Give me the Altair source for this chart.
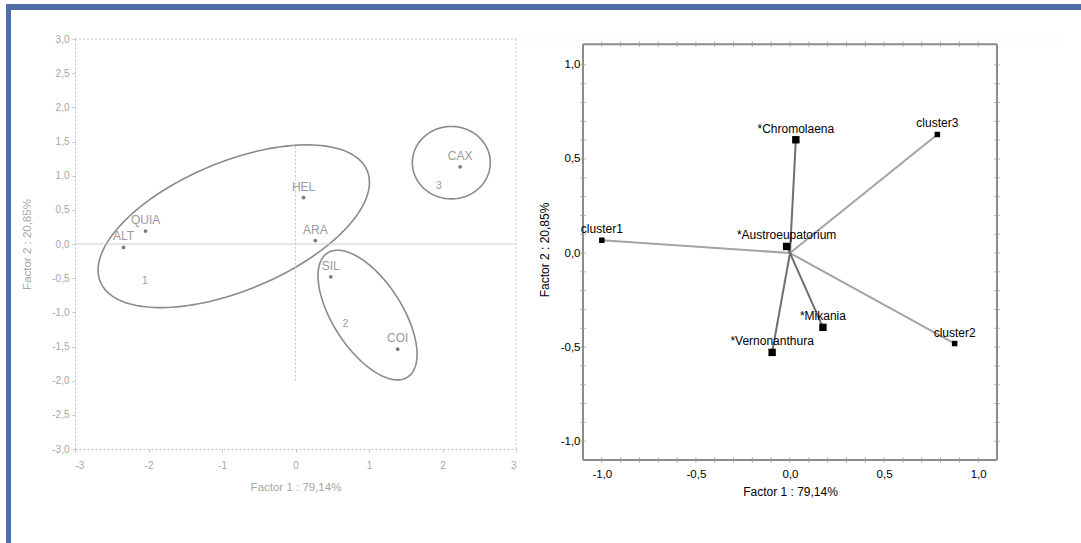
import numpy as np
import pandas as pd
import altair as alt

# ---- Left panel: site scores on factors 1 and 2 ----
site_names = ["ALT", "QUIA", "HEL", "ARA", "SIL", "COI", "CAX"]
site_f1 = [-2.34, -2.04, 0.11, 0.27, 0.48, 1.39, 2.24]
site_f2 = [-0.05, 0.19, 0.68, 0.05, -0.48, -1.54, 1.13]

# group numbers written inside each ellipse
group_names = ["1", "2", "3"]
group_f1 = [-2.05, 0.68, 1.95]
group_f2 = [-0.54, -1.17, 0.85]

# group ellipses: centre, semi-axes and rotation in degrees (factor units)
ell_group = ["1", "2", "3"]
ell_cx = [-0.84, 0.98, 2.12]
ell_cy = [0.26, -1.04, 1.19]
ell_a = [1.99, 1.06, 0.53]
ell_b = [0.93, 0.48, 0.53]
ell_angle = [25, -60, 0]

left_ticks_x = [-3, -2, -1, 0, 1, 2, 3]
left_ticks_y = [-3.0, -2.5, -2.0, -1.5, -1.0, -0.5, 0.0, 0.5, 1.0, 1.5, 2.0, 2.5, 3.0]

# ---- Right panel: biplot vectors ----
vec_names = ["cluster1", "cluster2", "cluster3",
             "*Chromolaena", "*Austroeupatorium", "*Mikania", "*Vernonanthura"]
vec_f1 = [-1.00, 0.875, 0.783, 0.031, -0.018, 0.175, -0.095]
vec_f2 = [0.068, -0.481, 0.630, 0.602, 0.035, -0.395, -0.528]
vec_kind = ["cluster", "cluster", "cluster", "genus", "genus", "genus", "genus"]

right_labels = [-1.0, -0.5, 0.0, 0.5, 1.0]
right_minor = [round(-1.0 + 0.1 * i, 1) for i in range(21)]

FONT = "Liberation Sans"
GREY_TXT = "#a6a6a6"

sites = pd.DataFrame({"name": site_names, "x": site_f1, "y": site_f2})
groups = pd.DataFrame({"name": group_names, "x": group_f1, "y": group_f2})

rows = []
t = np.linspace(0, 2 * np.pi, 181)
for g, cx, cy, a, b, ang in zip(ell_group, ell_cx, ell_cy, ell_a, ell_b, ell_angle):
    phi = np.radians(ang)
    ex = cx + a * np.cos(t) * np.cos(phi) - b * np.sin(t) * np.sin(phi)
    ey = cy + a * np.cos(t) * np.sin(phi) + b * np.sin(t) * np.cos(phi)
    for i, (px, py) in enumerate(zip(ex, ey)):
        rows.append({"g": g, "i": i, "x": px, "y": py})
ellipses = pd.DataFrame(rows)

num_int = "(datum.value < 0 ? '-' : '') + format(abs(datum.value), 'd')"
num_dec = "(datum.value < 0 ? '-' : '') + replace(format(abs(datum.value), '.1f'), '.', ',')"


def lx(field="x"):
    return alt.X(f"{field}:Q", scale=alt.Scale(domain=[-3, 3], nice=False, zero=False),
                 axis=alt.Axis(values=left_ticks_x, labelExpr=num_int, title="Factor 1 : 79,14%",
                               grid=False, domainColor="#c4c4c4", domainDash=[2, 2],
                               tickColor="#c4c4c4", tickSize=3, labelPadding=8,
                               labelColor=GREY_TXT, labelFontSize=10, labelFont=FONT,
                               titleFont=FONT, titleColor=GREY_TXT, titleFontSize=11.5,
                               titleFontWeight="normal", titlePadding=11))


def ly(field="y"):
    return alt.Y(f"{field}:Q", scale=alt.Scale(domain=[-3, 3], nice=False, zero=False),
                 axis=alt.Axis(values=left_ticks_y, labelExpr=num_dec, title="Factor 2 : 20,85%",
                               grid=False, domainColor="#c4c4c4", domainDash=[2, 2],
                               tickColor="#c4c4c4", tickSize=3, labelPadding=3,
                               labelColor=GREY_TXT, labelFontSize=10, labelFont=FONT,
                               titleFont=FONT, titleColor=GREY_TXT, titleFontSize=11.5,
                               titleFontWeight="normal", titlePadding=19))


def segs(x, x2, y, y2):
    return pd.DataFrame({"x": x, "x2": x2, "y": y, "y2": y2})


# dotted frame (top, right) and the dashed vertical origin line
left_dotted = segs([-3, 3, 0], [3, 3, 0], [3, -3, -2.0], [3, 3, 1.45])
# horizontal origin line
left_zero = segs([-3], [3], [0], [0])

dotted_layer = alt.Chart(left_dotted).mark_rule(color="#c4c4c4", strokeDash=[2, 2]).encode(
    x=lx(), x2="x2:Q", y=ly(), y2="y2:Q")
zero_layer = alt.Chart(left_zero).mark_rule(color="#cfcfcf").encode(
    x=lx(), x2="x2:Q", y=ly(), y2="y2:Q")
ell_layer = alt.Chart(ellipses).mark_line(color="#8a8a8a", strokeWidth=1.6).encode(
    x=lx(), y=ly(), detail="g:N", order="i:Q")
site_pts = alt.Chart(sites).mark_circle(color="#7a7a7a", size=14, opacity=1).encode(x=lx(), y=ly())
site_txt = alt.Chart(sites).mark_text(color="#9a9a9a", fontSize=12, font=FONT, dy=-11).encode(
    x=lx(), y=ly(), text="name:N")
group_txt = alt.Chart(groups).mark_text(color="#9a9a9a", fontSize=10.5, font=FONT).encode(
    x=lx(), y=ly(), text="name:N")

# window border (blue bars along the top and left edge)
one = pd.DataFrame({"k": [0]})
border_top = alt.Chart(one).mark_rect(color="#4d6fa5").encode(
    x=alt.value(-69), x2=alt.value(1006), y=alt.value(-35), y2=alt.value(-29))
border_left = alt.Chart(one).mark_rect(color="#4d6fa5").encode(
    x=alt.value(-69), x2=alt.value(-64), y=alt.value(-35), y2=alt.value(504))

left = alt.layer(
    ell_layer, zero_layer, dotted_layer, site_pts, site_txt, group_txt,
    border_top, border_left,
).properties(width=441, height=410)

# ---- right panel ----
vectors = pd.DataFrame({"name": vec_names, "x": vec_f1, "y": vec_f2, "kind": vec_kind})
vectors["ox"] = 0.0
vectors["oy"] = 0.0


def rx(field="x"):
    return alt.X(f"{field}:Q", scale=alt.Scale(domain=[-1.1, 1.1], nice=False, zero=False),
                 axis=alt.Axis(values=right_labels, labelExpr=num_dec, title="Factor 1 : 79,14%",
                               grid=False, domain=False, ticks=False, labelPadding=8,
                               labelColor="black", labelFontSize=11.5, labelFont=FONT,
                               titleFont=FONT, titleColor="black", titleFontSize=12,
                               titleFontWeight="normal", titlePadding=7))


def ry(field="y"):
    return alt.Y(f"{field}:Q", scale=alt.Scale(domain=[-1.1, 1.1375], nice=False, zero=False),
                 axis=alt.Axis(values=right_labels, labelExpr=num_dec, title="Factor 2 : 20,85%",
                               grid=False, domain=False, ticks=False, labelPadding=3,
                               labelColor="black", labelFontSize=11.5, labelFont=FONT,
                               titleFont=FONT, titleColor="black", titleFontSize=12,
                               titleFontWeight="normal", titlePadding=9))


box = segs([-1.1, -1.1, -1.1, 1.1], [1.1, 1.1, -1.1, 1.1],
           [1.11, -1.1, -1.1, -1.1], [1.11, -1.1, 1.11, 1.11])
faint = segs([-1.40], [1.44], [1.132], [1.132])
hticks = pd.DataFrame({"x": right_minor * 2,
                       "y": [1.11] * len(right_minor) + [-1.1] * len(right_minor)})
vticks = pd.DataFrame({"y": right_minor * 2,
                       "x": [-1.1] * len(right_minor) + [1.1] * len(right_minor)})

faint_layer = alt.Chart(faint).mark_rule(color="#d6d6d6", strokeDash=[1, 3]).encode(
    x=rx(), x2="x2:Q", y=ry(), y2="y2:Q")
box_layer = alt.Chart(box).mark_rule(color="#8c8c8c", strokeWidth=2).encode(
    x=rx(), x2="x2:Q", y=ry(), y2="y2:Q")
hticks_layer = alt.Chart(hticks).mark_tick(orient="vertical", color="#9a9a9a", size=6,
                                           thickness=1).encode(x=rx(), y=ry())
vticks_layer = alt.Chart(vticks).mark_tick(orient="horizontal", color="#9a9a9a", size=6,
                                           thickness=1).encode(x=rx(), y=ry())

arrow_cl = alt.Chart(vectors).transform_filter("datum.kind == 'cluster'").mark_rule(
    color="#a3a3a3", strokeWidth=2).encode(x=rx("ox"), y=ry("oy"), x2="x:Q", y2="y:Q")
arrow_ge = alt.Chart(vectors).transform_filter("datum.kind == 'genus'").mark_rule(
    color="#6e6e6e", strokeWidth=2).encode(x=rx("ox"), y=ry("oy"), x2="x:Q", y2="y:Q")
sq_cl = alt.Chart(vectors).transform_filter("datum.kind == 'cluster'").mark_square(
    color="black", size=30, opacity=1).encode(x=rx(), y=ry())
sq_ge = alt.Chart(vectors).transform_filter("datum.kind == 'genus'").mark_square(
    color="black", size=55, opacity=1).encode(x=rx(), y=ry())
vec_txt = alt.Chart(vectors).mark_text(color="black", fontSize=12, font=FONT, dy=-11).encode(
    x=rx(), y=ry(), text="name:N")

right = alt.layer(
    faint_layer, box_layer, hticks_layer, vticks_layer, arrow_cl, arrow_ge, sq_cl, sq_ge, vec_txt,
).properties(width=414, height=421)

chart = alt.hconcat(left, right, spacing=67, bounds="flush").properties(
    padding={"left": 6, "top": 4, "right": 0, "bottom": 0},
).configure(background="white", font=FONT).configure_view(strokeWidth=0)

chart.save("out.html", embed_options={"renderer": "svg", "actions": False})
